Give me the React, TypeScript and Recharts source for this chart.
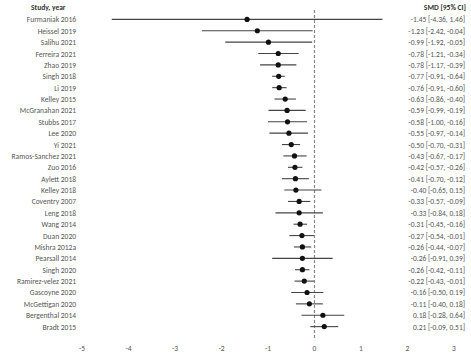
import React from 'react';
import { ScatterChart, Scatter, XAxis, YAxis, ErrorBar, ReferenceLine } from 'recharts';

const studies = [
  'Furmaniak 2016', 'Heissel 2019', 'Salihu 2021', 'Ferreira 2021', 'Zhao 2019', 'Singh 2018',
  'Li 2019', 'Kelley 2015', 'McGranahan 2021', 'Stubbs 2017', 'Lee 2020', 'Yi 2021',
  'Ramos-Sanchez 2021', 'Zuo 2016', 'Aylett 2018', 'Kelley 2018', 'Coventry 2007', 'Leng 2018',
  'Wang 2014', 'Duan 2020', 'Mishra 2012a', 'Pearsall 2014', 'Singh 2020', 'Ramirez-velez 2021',
  'Gascoyne 2020', 'McGettigan 2020', 'Bergenthal 2014', 'Bradt 2015',
];
const smd = [-1.45, -1.23, -0.99, -0.78, -0.78, -0.77, -0.76, -0.63, -0.59, -0.58, -0.55, -0.5, -0.43, -0.42, -0.41, -0.4, -0.33, -0.33, -0.31, -0.27, -0.26, -0.26, -0.26, -0.22, -0.16, -0.11, 0.18, 0.21];
const lower = [-4.36, -2.42, -1.92, -1.21, -1.17, -0.91, -0.91, -0.86, -0.99, -1.0, -0.97, -0.7, -0.67, -0.57, -0.7, -0.65, -0.57, -0.84, -0.45, -0.54, -0.44, -0.91, -0.42, -0.43, -0.5, -0.4, -0.28, -0.09];
const upper = [1.46, -0.04, -0.05, -0.34, -0.39, -0.64, -0.6, -0.4, -0.19, -0.16, -0.14, -0.31, -0.17, -0.26, -0.12, 0.15, -0.09, 0.18, -0.16, -0.01, -0.07, 0.39, -0.11, -0.01, 0.19, 0.18, 0.64, 0.51];
const xTicks = [-5, -4, -3, -2, -1, 0, 1, 2, 3];

const fmt = (v: number) => v.toFixed(2);

const data = studies.map((s, i) => ({
  row: i,
  study: s,
  smd: smd[i],
  err: [smd[i] - lower[i], upper[i] - smd[i]],
  ci: `${fmt(smd[i])} [${fmt(lower[i])}, ${fmt(upper[i])}]`,
}));

const FONT = 'Carlito, "Liberation Sans Narrow", "Open Sans", sans-serif';

const RowTick = (props: any) => {
  const { y, payload } = props;
  const d = data[payload.value];
  if (!d) return null;
  return (
    <g>
      <text x={76} y={y} dy={3} textAnchor="end" fontSize={7.5} fill="#555" fontFamily={FONT}>{d.study}</text>
      <text x={465} y={y} dy={3} textAnchor="end" fontSize={7.5} fill="#555" fontFamily={FONT}>{d.ci}</text>
    </g>
  );
};

const Dot = (props: any) => {
  const { cx, cy } = props;
  return <circle cx={cx} cy={cy} r={2.6} fill="#111" />;
};

export default function App() {
  return (
    <div style={{ position: 'absolute', left: 0, top: 0, width: 471, height: 360, background: '#fff' }}>
      <div style={{ position: 'absolute', left: 31, top: 3, fontSize: 7.5, fontWeight: 'bold', color: '#333', fontFamily: FONT }}>Study, year</div>
      <div style={{ position: 'absolute', right: 5, top: 3, fontSize: 7.5, fontWeight: 'bold', color: '#333', fontFamily: FONT }}>SMD [95% CI]</div>
      <ScatterChart width={471} height={360} margin={{ top: 8, right: 17, bottom: 0, left: 0 }}>
        <XAxis
          type="number"
          dataKey="smd"
          domain={[-5, 3]}
          ticks={xTicks}
          axisLine={false}
          tickLine={false}
          height={22}
          tick={{ fontSize: 7.5, fill: '#555', fontFamily: FONT }}
        />
        <YAxis
          type="number"
          dataKey="row"
          domain={[-1, 28]}
          reversed
          ticks={data.map((d) => d.row)}
          interval={0}
          width={82}
          axisLine={false}
          tickLine={false}
          tick={<RowTick />}
        />
        <ReferenceLine x={0} stroke="#888" strokeDasharray="3 2" strokeWidth={1.2} />
        <Scatter data={data} shape={<Dot />} isAnimationActive={false}>
          <ErrorBar dataKey="err" direction="x" width={0} stroke="#444" strokeWidth={1.1} />
        </Scatter>
      </ScatterChart>
    </div>
  );
}
